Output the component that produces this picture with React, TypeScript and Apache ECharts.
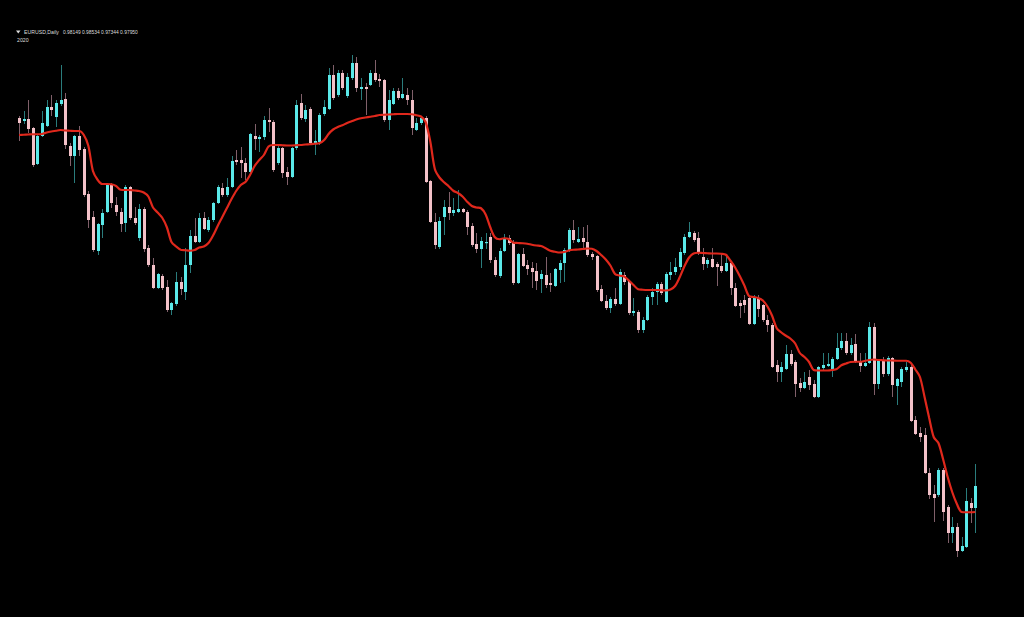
import React, { useEffect, useRef } from "react";
import * as echarts from "echarts";

const opens = [
  1.1268,1.1256,1.1264,1.1228,1.1084,1.1196,1.1236,1.1312,1.1272,1.1324,
  1.1344,1.1156,1.1116,1.1196,1.1144,1.0964,1.0872,1.0736,1.0840,1.0892,
  1.1000,1.0920,1.0892,1.0848,1.0992,1.0868,1.0788,1.0904,1.0748,1.0680,
  1.0588,1.0636,1.0592,1.0500,1.0524,1.0612,1.0572,1.0680,1.0796,1.0772,
  1.0868,1.0820,1.0860,1.0928,1.0988,1.0960,1.0992,1.1100,1.1100,1.1088,
  1.1052,1.1196,1.1184,1.1192,1.1260,1.1252,1.1088,1.1148,1.1052,1.1032,
  1.1148,1.1328,1.1264,1.1304,1.1168,1.1172,1.1284,1.1304,1.1440,1.1360,
  1.1448,1.1356,1.1428,1.1488,1.1384,1.1392,1.1400,1.1448,1.1424,1.1420,
  1.1260,1.1324,1.1376,1.1348,1.1360,1.1340,1.1220,1.1248,1.1268,1.1016,
  1.0852,1.0752,1.0872,1.0912,1.0888,1.0892,1.0904,1.0892,1.0836,1.0764,
  1.0744,1.0768,1.0792,1.0700,1.0636,1.0736,1.0788,1.0772,1.0608,1.0724,
  1.0680,1.0668,1.0656,1.0624,1.0640,1.0608,1.0596,1.0660,1.0688,1.0740,
  1.0820,1.0772,1.0788,1.0772,1.0724,1.0716,1.0584,1.0536,1.0508,1.0544,
  1.0524,1.0640,1.0616,1.0488,1.0492,1.0420,1.0460,1.0552,1.0572,1.0604,
  1.0532,1.0640,1.0652,1.0672,1.0728,1.0792,1.0808,1.0788,1.0712,1.0684,
  1.0704,1.0684,1.0676,1.0656,1.0688,1.0588,1.0528,1.0540,1.0548,1.0444,
  1.0548,1.0520,1.0460,1.0440,1.0280,1.0252,1.0264,1.0324,1.0292,1.0208,
  1.0188,1.0232,1.0204,1.0152,1.0268,1.0276,1.0260,1.0304,1.0348,1.0376,
  1.0328,1.0364,1.0296,1.0276,1.0288,1.0432,1.0204,1.0296,1.0244,1.0308,
  1.0196,1.0212,1.0260,1.0272,1.0060,1.0008,1.0000,0.9848,0.9764,0.9760,
  0.9860,0.9712,0.9608,0.9632,0.9536,0.9552,0.9728,0.9708,
];

const closes = [
  1.1248,1.1264,1.1224,1.1080,1.1196,1.1248,1.1312,1.1300,1.1328,1.1340,
  1.1160,1.1116,1.1196,1.1140,1.0960,1.0860,1.0740,1.0844,1.0888,1.1000,
  1.0928,1.0892,1.0844,1.0992,1.0868,1.0848,1.0904,1.0744,1.0680,1.0588,
  1.0644,1.0588,1.0500,1.0528,1.0612,1.0584,1.0680,1.0796,1.0772,1.0868,
  1.0824,1.0860,1.0928,1.0992,1.0960,1.0992,1.1096,1.1092,1.1088,1.1052,
  1.1204,1.1184,1.1192,1.1260,1.1252,1.1060,1.1148,1.1048,1.1032,1.1148,
  1.1320,1.1268,1.1300,1.1168,1.1176,1.1280,1.1312,1.1440,1.1348,1.1448,
  1.1388,1.1432,1.1488,1.1388,1.1392,1.1384,1.1448,1.1420,1.1416,1.1260,
  1.1340,1.1376,1.1348,1.1364,1.1340,1.1228,1.1248,1.1268,1.1012,1.0852,
  1.0760,1.0856,1.0912,1.0888,1.0900,1.0904,1.0892,1.0832,1.0760,1.0744,
  1.0776,1.0772,1.0700,1.0640,1.0736,1.0788,1.0768,1.0608,1.0724,1.0676,
  1.0664,1.0652,1.0616,1.0644,1.0600,1.0600,1.0664,1.0688,1.0740,1.0820,
  1.0780,1.0784,1.0772,1.0720,1.0712,1.0580,1.0536,1.0508,1.0544,1.0524,
  1.0652,1.0612,1.0488,1.0496,1.0420,1.0460,1.0552,1.0572,1.0604,1.0568,
  1.0644,1.0652,1.0672,1.0732,1.0792,1.0812,1.0780,1.0732,1.0684,1.0700,
  1.0672,1.0672,1.0656,1.0688,1.0588,1.0516,1.0516,1.0520,1.0444,1.0548,
  1.0504,1.0460,1.0440,1.0272,1.0252,1.0272,1.0324,1.0284,1.0204,1.0188,
  1.0212,1.0200,1.0152,1.0272,1.0280,1.0284,1.0304,1.0348,1.0376,1.0328,
  1.0360,1.0296,1.0276,1.0288,1.0432,1.0204,1.0296,1.0244,1.0308,1.0200,
  1.0224,1.0264,1.0272,1.0056,1.0004,0.9992,0.9848,0.9760,0.9748,0.9860,
  0.9692,0.9608,0.9632,0.9536,0.9556,0.9736,0.9708,0.9796,
];

const lows = [
  1.1176,1.1244,1.1208,1.1072,1.1080,1.1192,1.1232,1.1276,1.1232,1.1316,
  1.1144,1.1076,1.1008,1.1116,1.0952,1.0828,1.0732,1.0720,1.0788,1.0888,
  1.0908,1.0876,1.0812,1.0812,1.0860,1.0840,1.0776,1.0732,1.0672,1.0584,
  1.0584,1.0580,1.0492,1.0480,1.0516,1.0560,1.0540,1.0648,1.0768,1.0768,
  1.0820,1.0812,1.0852,1.0924,1.0952,1.0952,1.0988,1.1080,1.1028,1.1020,
  1.1048,1.1140,1.1132,1.1180,1.1212,1.1052,1.1080,1.1028,1.1000,1.1028,
  1.1140,1.1260,1.1252,1.1160,1.1120,1.1160,1.1276,1.1300,1.1340,1.1352,
  1.1380,1.1348,1.1420,1.1372,1.1340,1.1280,1.1396,1.1412,1.1392,1.1252,
  1.1220,1.1320,1.1340,1.1344,1.1320,1.1200,1.1216,1.1240,1.1008,1.0848,
  1.0744,1.0744,1.0800,1.0860,1.0876,1.0888,1.0888,1.0800,1.0752,1.0728,
  1.0668,1.0744,1.0688,1.0632,1.0628,1.0732,1.0760,1.0600,1.0604,1.0672,
  1.0640,1.0588,1.0580,1.0568,1.0588,1.0572,1.0592,1.0608,1.0612,1.0732,
  1.0768,1.0768,1.0748,1.0712,1.0700,1.0572,1.0532,1.0500,1.0488,1.0516,
  1.0520,1.0600,1.0480,1.0476,1.0408,1.0408,1.0456,1.0520,1.0520,1.0560,
  1.0528,1.0620,1.0640,1.0660,1.0720,1.0788,1.0772,1.0720,1.0660,1.0668,
  1.0668,1.0596,1.0648,1.0652,1.0560,1.0512,1.0468,1.0488,1.0440,1.0440,
  1.0472,1.0452,1.0412,1.0268,1.0212,1.0212,1.0260,1.0276,1.0152,1.0172,
  1.0184,1.0180,1.0148,1.0148,1.0260,1.0272,1.0232,1.0300,1.0340,1.0320,
  1.0320,1.0288,1.0252,1.0272,1.0284,1.0160,1.0184,1.0232,1.0236,1.0152,
  1.0120,1.0192,1.0252,1.0052,1.0000,0.9972,0.9844,0.9744,0.9652,0.9752,
  0.9656,0.9568,0.9568,0.9512,0.9532,0.9548,0.9648,0.9608,
];

const highs = [
  1.1276,1.1296,1.1340,1.1232,1.1200,1.1296,1.1340,1.1360,1.1340,1.1480,
  1.1368,1.1168,1.1200,1.1236,1.1152,1.0976,1.0896,1.0848,1.0904,1.1008,
  1.1008,1.0952,1.0908,1.1000,1.0996,1.0912,1.0924,1.0912,1.0760,1.0708,
  1.0648,1.0644,1.0620,1.0532,1.0652,1.0632,1.0748,1.0820,1.0868,1.0888,
  1.0892,1.0872,1.0932,1.1000,1.1008,1.1028,1.1116,1.1140,1.1152,1.1108,
  1.1208,1.1244,1.1200,1.1276,1.1308,1.1260,1.1160,1.1152,1.1072,1.1152,
  1.1340,1.1364,1.1320,1.1312,1.1220,1.1288,1.1340,1.1468,1.1480,1.1460,
  1.1460,1.1448,1.1520,1.1512,1.1428,1.1408,1.1460,1.1500,1.1444,1.1424,
  1.1380,1.1388,1.1388,1.1428,1.1388,1.1380,1.1268,1.1276,1.1276,1.1020,
  1.0888,1.0872,1.0940,1.0972,1.0948,1.0980,1.0908,1.0900,1.0848,1.0808,
  1.0792,1.0808,1.0808,1.0712,1.0748,1.0804,1.0800,1.0780,1.0728,1.0748,
  1.0700,1.0692,1.0688,1.0660,1.0712,1.0648,1.0668,1.0700,1.0748,1.0828,
  1.0860,1.0832,1.0832,1.0840,1.0732,1.0720,1.0600,1.0560,1.0552,1.0588,
  1.0664,1.0652,1.0620,1.0548,1.0500,1.0472,1.0560,1.0588,1.0612,1.0612,
  1.0652,1.0692,1.0708,1.0748,1.0804,1.0852,1.0816,1.0812,1.0748,1.0708,
  1.0748,1.0692,1.0728,1.0720,1.0692,1.0608,1.0540,1.0560,1.0552,1.0560,
  1.0560,1.0524,1.0480,1.0448,1.0300,1.0292,1.0360,1.0340,1.0300,1.0228,
  1.0252,1.0260,1.0220,1.0276,1.0328,1.0328,1.0312,1.0408,1.0408,1.0408,
  1.0388,1.0404,1.0328,1.0328,1.0452,1.0448,1.0304,1.0312,1.0316,1.0312,
  1.0228,1.0272,1.0292,1.0280,1.0076,1.0032,1.0028,0.9868,0.9800,0.9868,
  0.9868,0.9720,0.9672,0.9648,0.9592,0.9788,0.9748,0.9884,
];

const movingAverage = [
  1.1200,1.1201,1.1202,1.1203,1.1203,1.1204,1.1210,1.1214,1.1217,1.1220,
  1.1218,1.1217,1.1216,1.1216,1.1201,1.1157,1.1056,1.1021,1.1004,1.1004,
  1.1003,1.0996,1.0981,1.0980,1.0980,1.0978,1.0976,1.0970,1.0954,1.0910,
  1.0890,1.0869,1.0831,1.0772,1.0754,1.0741,1.0739,1.0737,1.0740,1.0750,
  1.0754,1.0768,1.0798,1.0836,1.0872,1.0908,1.0944,1.0976,1.1000,1.1012,
  1.1040,1.1076,1.1100,1.1120,1.1154,1.1160,1.1160,1.1159,1.1158,1.1158,
  1.1159,1.1160,1.1162,1.1163,1.1165,1.1167,1.1179,1.1204,1.1222,1.1232,
  1.1239,1.1248,1.1255,1.1262,1.1267,1.1270,1.1273,1.1276,1.1280,1.1281,
  1.1282,1.1283,1.1284,1.1284,1.1284,1.1283,1.1279,1.1274,1.1252,1.1176,
  1.1064,1.1030,1.1011,1.0995,1.0977,1.0968,1.0954,1.0933,1.0916,1.0910,
  1.0907,1.0882,1.0831,1.0791,1.0783,1.0787,1.0784,1.0769,1.0768,1.0767,
  1.0765,1.0761,1.0758,1.0756,1.0747,1.0737,1.0733,1.0730,1.0732,1.0738,
  1.0741,1.0742,1.0744,1.0746,1.0745,1.0736,1.0720,1.0702,1.0678,1.0644,
  1.0638,1.0634,1.0618,1.0600,1.0583,1.0581,1.0580,1.0580,1.0580,1.0579,
  1.0578,1.0582,1.0596,1.0631,1.0674,1.0709,1.0726,1.0729,1.0728,1.0727,
  1.0726,1.0726,1.0725,1.0721,1.0697,1.0670,1.0636,1.0598,1.0556,1.0552,
  1.0548,1.0538,1.0514,1.0477,1.0427,1.0410,1.0397,1.0385,1.0366,1.0328,
  1.0312,1.0292,1.0260,1.0258,1.0258,1.0258,1.0260,1.0264,1.0279,1.0286,
  1.0292,1.0293,1.0293,1.0296,1.0300,1.0302,1.0300,1.0299,1.0298,1.0298,
  1.0297,1.0297,1.0297,1.0289,1.0262,1.0232,1.0152,1.0068,0.9991,0.9968,
  0.9904,0.9832,0.9771,0.9724,0.9692,0.9691,0.9691,0.9692,
];

const categories = opens.map((_, i) => String(i + 1));
const symbolLabel = "EURUSD,Daily";
const quoteLabel = "0.98149 0.98534 0.97344 0.97950";
const yearLabel = "2020";

const UP_BODY = "#5ae9e9";
const DOWN_BODY = "#f3c1c8";
const UP_WICK = "#2a7c7c";
const DOWN_WICK = "#80606a";

export default function App() {
  const ref = useRef<HTMLDivElement>(null);

  useEffect(() => {
    if (!ref.current) return;
    const chart = echarts.init(ref.current, undefined, { renderer: "svg" });
    const rows = opens.map((o, i) => [i, o, closes[i], lows[i], highs[i]]);

    chart.setOption({
      animation: false,
      backgroundColor: "#000000",
      grid: { left: 16.7, right: 46.3, top: 0, bottom: 0 },
      xAxis: {
        type: "category",
        data: categories,
        boundaryGap: true,
        show: false,
      },
      yAxis: {
        type: "value",
        min: 0.9272,
        max: 1.174,
        show: false,
        splitLine: { show: false },
      },
      series: [
        {
          type: "custom",
          data: rows,
          encode: { x: 0, y: [1, 2, 3, 4] },
          renderItem: (params: any, api: any) => {
            const idx = api.value(0);
            const o = api.value(1);
            const c = api.value(2);
            const l = api.value(3);
            const h = api.value(4);
            const pO = api.coord([idx, o]);
            const pC = api.coord([idx, c]);
            const pL = api.coord([idx, l]);
            const pH = api.coord([idx, h]);
            const up = c >= o;
            const x = Math.round(pO[0]);
            const top = Math.min(pO[1], pC[1]);
            const bot = Math.max(pO[1], pC[1]);
            return {
              type: "group",
              children: [
                {
                  type: "line",
                  shape: { x1: x + 0.5, y1: pH[1], x2: x + 0.5, y2: pL[1] },
                  style: { stroke: up ? UP_WICK : DOWN_WICK, lineWidth: 1 },
                },
                {
                  type: "rect",
                  shape: { x: x - 1, y: top, width: 3, height: Math.max(1.2, bot - top) },
                  style: { fill: up ? UP_BODY : DOWN_BODY },
                },
              ],
            };
          },
          z: 2,
        },
        {
          type: "line",
          data: movingAverage,
          symbol: "none",
          smooth: 0.3,
          lineStyle: { color: "#e0281c", width: 2.2 },
          z: 3,
        },
      ],
      graphic: [
        {
          type: "polygon",
          shape: { points: [[16, 30.5], [20.5, 30.5], [18.25, 33.5]] },
          style: { fill: "#dddddd" },
        },
        {
          type: "text",
          x: 24,
          y: 29.5,
          style: {
            text: symbolLabel,
            fill: "#dddddd",
            fontSize: 5.2,
            fontFamily: "Liberation Sans",
            verticalAlign: "top",
          },
        },
        {
          type: "text",
          x: 63,
          y: 29.5,
          style: {
            text: quoteLabel,
            fill: "#dddddd",
            fontSize: 4.9,
            fontFamily: "Liberation Sans",
            verticalAlign: "top",
          },
        },
        {
          type: "text",
          x: 17,
          y: 37.5,
          style: {
            text: yearLabel,
            fill: "#dddddd",
            fontSize: 5.2,
            fontFamily: "Liberation Sans",
            verticalAlign: "top",
          },
        },
      ],
    });

    return () => chart.dispose();
  }, []);

  return (
    <div
      ref={ref}
      style={{ position: "fixed", left: 0, top: 0, width: 1024, height: 617 }}
    />
  );
}
